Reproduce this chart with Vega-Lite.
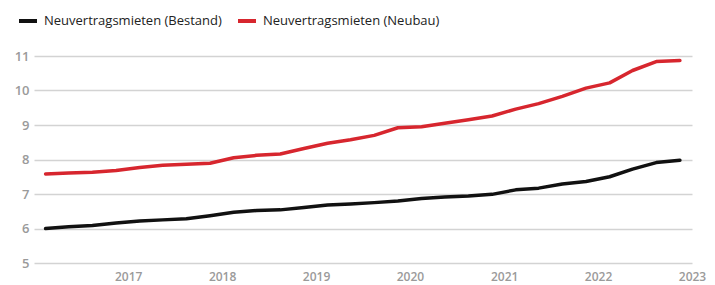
{
  "$schema": "https://vega.github.io/schema/vega-lite/v6.json",
  "width": 658,
  "height": 207,
  "autosize": {"type": "none"},
  "padding": {"left": 34, "top": 56, "right": 23, "bottom": 22},
  "background": "#ffffff",
  "config": {
    "view": {"stroke": null},
    "font": "Open Sans"
  },
  "data": {
    "values": [
      {"date": "2016-02-15", "series": "Neuvertragsmieten (Bestand)", "value": 6.00},
      {"date": "2016-05-15", "series": "Neuvertragsmieten (Bestand)", "value": 6.05},
      {"date": "2016-08-15", "series": "Neuvertragsmieten (Bestand)", "value": 6.09},
      {"date": "2016-11-15", "series": "Neuvertragsmieten (Bestand)", "value": 6.16},
      {"date": "2017-02-15", "series": "Neuvertragsmieten (Bestand)", "value": 6.22},
      {"date": "2017-05-15", "series": "Neuvertragsmieten (Bestand)", "value": 6.25},
      {"date": "2017-08-15", "series": "Neuvertragsmieten (Bestand)", "value": 6.28},
      {"date": "2017-11-15", "series": "Neuvertragsmieten (Bestand)", "value": 6.37},
      {"date": "2018-02-15", "series": "Neuvertragsmieten (Bestand)", "value": 6.47},
      {"date": "2018-05-15", "series": "Neuvertragsmieten (Bestand)", "value": 6.52},
      {"date": "2018-08-15", "series": "Neuvertragsmieten (Bestand)", "value": 6.54},
      {"date": "2018-11-15", "series": "Neuvertragsmieten (Bestand)", "value": 6.61},
      {"date": "2019-02-15", "series": "Neuvertragsmieten (Bestand)", "value": 6.68},
      {"date": "2019-05-15", "series": "Neuvertragsmieten (Bestand)", "value": 6.71},
      {"date": "2019-08-15", "series": "Neuvertragsmieten (Bestand)", "value": 6.75},
      {"date": "2019-11-15", "series": "Neuvertragsmieten (Bestand)", "value": 6.80},
      {"date": "2020-02-15", "series": "Neuvertragsmieten (Bestand)", "value": 6.87},
      {"date": "2020-05-15", "series": "Neuvertragsmieten (Bestand)", "value": 6.91},
      {"date": "2020-08-15", "series": "Neuvertragsmieten (Bestand)", "value": 6.94},
      {"date": "2020-11-15", "series": "Neuvertragsmieten (Bestand)", "value": 6.99},
      {"date": "2021-02-15", "series": "Neuvertragsmieten (Bestand)", "value": 7.12},
      {"date": "2021-05-15", "series": "Neuvertragsmieten (Bestand)", "value": 7.17},
      {"date": "2021-08-15", "series": "Neuvertragsmieten (Bestand)", "value": 7.29},
      {"date": "2021-11-15", "series": "Neuvertragsmieten (Bestand)", "value": 7.36},
      {"date": "2022-02-15", "series": "Neuvertragsmieten (Bestand)", "value": 7.50},
      {"date": "2022-05-15", "series": "Neuvertragsmieten (Bestand)", "value": 7.72},
      {"date": "2022-08-15", "series": "Neuvertragsmieten (Bestand)", "value": 7.91},
      {"date": "2022-11-15", "series": "Neuvertragsmieten (Bestand)", "value": 7.98},
      {"date": "2016-02-15", "series": "Neuvertragsmieten (Neubau)", "value": 7.58},
      {"date": "2016-05-15", "series": "Neuvertragsmieten (Neubau)", "value": 7.61},
      {"date": "2016-08-15", "series": "Neuvertragsmieten (Neubau)", "value": 7.63},
      {"date": "2016-11-15", "series": "Neuvertragsmieten (Neubau)", "value": 7.68},
      {"date": "2017-02-15", "series": "Neuvertragsmieten (Neubau)", "value": 7.77},
      {"date": "2017-05-15", "series": "Neuvertragsmieten (Neubau)", "value": 7.83},
      {"date": "2017-08-15", "series": "Neuvertragsmieten (Neubau)", "value": 7.86},
      {"date": "2017-11-15", "series": "Neuvertragsmieten (Neubau)", "value": 7.89},
      {"date": "2018-02-15", "series": "Neuvertragsmieten (Neubau)", "value": 8.05},
      {"date": "2018-05-15", "series": "Neuvertragsmieten (Neubau)", "value": 8.12},
      {"date": "2018-08-15", "series": "Neuvertragsmieten (Neubau)", "value": 8.16},
      {"date": "2018-11-15", "series": "Neuvertragsmieten (Neubau)", "value": 8.32},
      {"date": "2019-02-15", "series": "Neuvertragsmieten (Neubau)", "value": 8.47},
      {"date": "2019-05-15", "series": "Neuvertragsmieten (Neubau)", "value": 8.57},
      {"date": "2019-08-15", "series": "Neuvertragsmieten (Neubau)", "value": 8.70},
      {"date": "2019-11-15", "series": "Neuvertragsmieten (Neubau)", "value": 8.92},
      {"date": "2020-02-15", "series": "Neuvertragsmieten (Neubau)", "value": 8.95},
      {"date": "2020-05-15", "series": "Neuvertragsmieten (Neubau)", "value": 9.05},
      {"date": "2020-08-15", "series": "Neuvertragsmieten (Neubau)", "value": 9.15},
      {"date": "2020-11-15", "series": "Neuvertragsmieten (Neubau)", "value": 9.26},
      {"date": "2021-02-15", "series": "Neuvertragsmieten (Neubau)", "value": 9.46},
      {"date": "2021-05-15", "series": "Neuvertragsmieten (Neubau)", "value": 9.62},
      {"date": "2021-08-15", "series": "Neuvertragsmieten (Neubau)", "value": 9.83},
      {"date": "2021-11-15", "series": "Neuvertragsmieten (Neubau)", "value": 10.07},
      {"date": "2022-02-15", "series": "Neuvertragsmieten (Neubau)", "value": 10.22},
      {"date": "2022-05-15", "series": "Neuvertragsmieten (Neubau)", "value": 10.58},
      {"date": "2022-08-15", "series": "Neuvertragsmieten (Neubau)", "value": 10.84},
      {"date": "2022-11-15", "series": "Neuvertragsmieten (Neubau)", "value": 10.87}
    ]
  },
  "mark": {"type": "line", "strokeWidth": 3.5, "strokeCap": "round", "strokeJoin": "round"},
  "encoding": {
    "x": {
      "field": "date",
      "type": "temporal",
      "scale": {"domain": ["2016-01-01T00:00:00", "2023-01-01T00:00:00"]},
      "axis": {
        "title": null,
        "values": [
          {"year": 2017, "month": 1, "date": 1},
          {"year": 2018, "month": 1, "date": 1},
          {"year": 2019, "month": 1, "date": 1},
          {"year": 2020, "month": 1, "date": 1},
          {"year": 2021, "month": 1, "date": 1},
          {"year": 2022, "month": 1, "date": 1},
          {"year": 2023, "month": 1, "date": 1}
        ],
        "format": "%Y",
        "grid": false,
        "domain": false,
        "ticks": false,
        "labelPadding": 8,
        "labelFontSize": 12,
        "labelColor": "#9a9a9a",
        "labelFont": "Open Sans",
        "labelFontWeight": 600,
        "labelOverlap": false,
        "labelBound": false,
        "labelFlush": false
      }
    },
    "y": {
      "field": "value",
      "type": "quantitative",
      "scale": {"domain": [5, 11], "nice": false, "zero": false},
      "axis": {
        "title": null,
        "values": [5, 6, 7, 8, 9, 10, 11],
        "grid": true,
        "gridColor": "#d3d3d3",
        "gridWidth": 1.5,
        "domain": false,
        "ticks": false,
        "labelPadding": 5,
        "labelFontSize": 13,
        "labelColor": "#9a9a9a",
        "labelFont": "Open Sans",
        "labelFontWeight": 600
      }
    },
    "color": {
      "field": "series",
      "type": "nominal",
      "scale": {
        "domain": ["Neuvertragsmieten (Bestand)", "Neuvertragsmieten (Neubau)"],
        "range": ["#111111", "#d7262e"]
      },
      "legend": {
        "title": null,
        "orient": "none",
        "direction": "horizontal",
        "legendX": -17,
        "legendY": -46,
        "symbolType": "stroke",
        "symbolSize": 324,
        "symbolStrokeWidth": 4,
        "labelFontSize": 13,
        "labelFont": "Open Sans",
        "labelColor": "#222222",
        "labelOffset": 5,
        "labelLimit": 0,
        "columnPadding": 8
      }
    }
  }
}
